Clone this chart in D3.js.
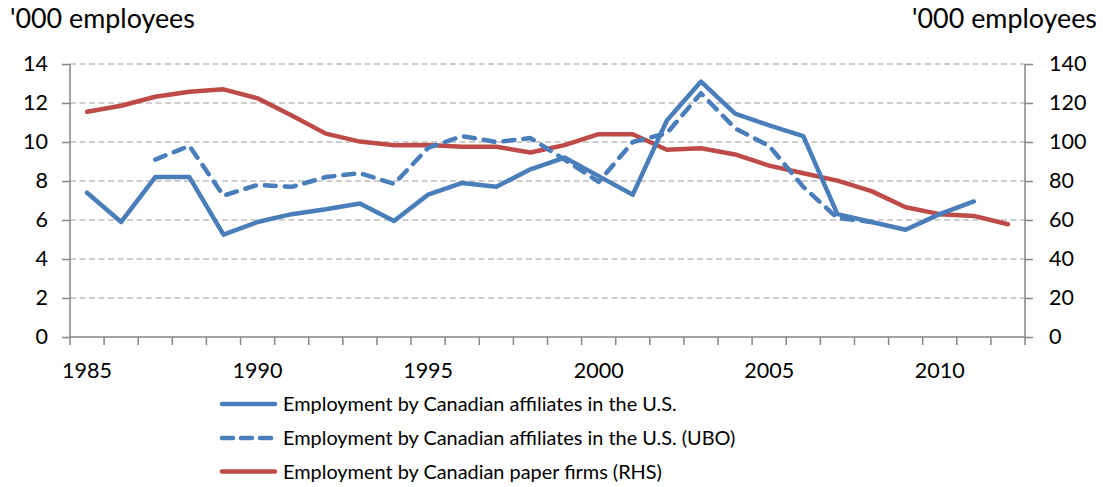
<!DOCTYPE html>
<html>
<head>
<meta charset="utf-8">
<script src="https://cdn.jsdelivr.net/npm/d3@7/dist/d3.min.js"></script>
<style>
  html, body { margin: 0; padding: 0; background: #ffffff; }
  svg { display: block; }
  text { font-family: Lato, "Open Sans", "Liberation Sans", sans-serif; fill: #000; }
</style>
</head>
<body>
<svg id="chart" width="1103" height="487"></svg>
<script>
// ---------- data ----------
const years = d3.range(1985, 2013); // 1985..2012
const xTickLabels = [1985, 1990, 1995, 2000, 2005, 2010];
const leftTicks = [0, 2, 4, 6, 8, 10, 12, 14];
const rightTicks = [0, 20, 40, 60, 80, 100, 120, 140];
const axisTitle = "'000 employees";

const affiliatesYears = d3.range(1985, 2012);
const affiliates = [7.4, 5.9, 8.2, 8.2, 5.25, 5.9, 6.3, 6.55, 6.85, 5.95,
                    7.3, 7.9, 7.7, 8.6, 9.2, 8.25, 7.3, 11.1, 13.1, 11.45,
                    10.85, 10.3, 6.3, 5.9, 5.5, 6.3, 6.95];

const uboYears = d3.range(1987, 2009);
const ubo = [9.1, 9.8, 7.25, 7.8, 7.7, 8.2, 8.4, 7.85,
             9.7, 10.3, 10.0, 10.2, 9.1, 7.95, 10.0, 10.45, 12.5, 10.7,
             9.8, 7.7, 6.1, 5.9];

const paperYears = d3.range(1985, 2013);
const paper = [115.5, 118.6, 123.2, 125.8, 127.0, 122.4, 113.6, 104.3, 100.2, 98.3,
               98.4, 97.6, 97.6, 94.6, 98.4, 104.0, 104.0, 96.0, 96.8, 93.6,
               87.9, 84.0, 80.2, 74.8, 66.5, 63.0, 62.1, 57.8];

const seriesNames = [
  "Employment by Canadian affiliates in the U.S.",
  "Employment by Canadian affiliates in the U.S. (UBO)",
  "Employment by Canadian paper firms (RHS)"
];

// ---------- layout ----------
const svg = d3.select("#chart");
const L = 70, R = 1025, T = 64, B = 337;
const blue = "#4a7ebb", red = "#be4b48", axisCol = "#868686", gridCol = "#bfbfbf";

const x = d3.scaleBand().domain(years).range([L, R]).paddingInner(0).paddingOuter(0);
const xc = d => x(d) + x.bandwidth() / 2;
const yL = d3.scaleLinear().domain([0, 14]).range([B, T]);
const yR = d3.scaleLinear().domain([0, 140]).range([B, T]);

// font fitting helper
function fitSize(str, targetWidth, base) {
  const t = svg.append("text").attr("font-size", base).text(str);
  const w = t.node().getComputedTextLength();
  t.remove();
  return base * targetWidth / w;
}
const tickFS = fitSize("1985", 50, 20);
const titleFS = fitSize(axisTitle, 185, 20);
const legendFS = fitSize(seriesNames[0], 394, 18);

// gridlines
svg.append("g").selectAll("line").data(leftTicks.filter(d => d > 0)).join("line")
  .attr("x1", L).attr("x2", R)
  .attr("y1", d => yL(d)).attr("y2", d => yL(d))
  .attr("stroke", gridCol).attr("stroke-width", 1.3).attr("stroke-dasharray", "6,3.5");

// left axis
const gl = svg.append("g").attr("transform", `translate(${L},0)`)
  .call(d3.axisLeft(yL).tickValues(leftTicks).tickSize(8).tickPadding(14));
gl.select(".domain").attr("stroke", axisCol).attr("stroke-width", 1.5).attr("d", `M0,${T}V${B}`);
gl.selectAll(".tick line").attr("stroke", axisCol).attr("stroke-width", 1.5);
gl.selectAll(".tick text").attr("font-size", tickFS).attr("font-family", "Lato, sans-serif").attr("fill", "#000");

// right axis
const gr = svg.append("g").attr("transform", `translate(${R},0)`)
  .call(d3.axisRight(yR).tickValues(rightTicks).tickSize(8).tickPadding(16));
gr.select(".domain").attr("stroke", axisCol).attr("stroke-width", 1.5).attr("d", `M0,${T}V${B}`);
gr.selectAll(".tick line").attr("stroke", axisCol).attr("stroke-width", 1.5);
gr.selectAll(".tick text").attr("font-size", tickFS).attr("font-family", "Lato, sans-serif").attr("fill", "#000");

// bottom axis: ticks at category boundaries
const boundaries = years.map(d => x(d)).concat([R]);
svg.append("line").attr("x1", L).attr("x2", R).attr("y1", B).attr("y2", B)
  .attr("stroke", axisCol).attr("stroke-width", 1.5);
svg.append("g").selectAll("line").data(boundaries).join("line")
  .attr("x1", d => d).attr("x2", d => d).attr("y1", B).attr("y2", B + 8)
  .attr("stroke", axisCol).attr("stroke-width", 1.5);
svg.append("g").selectAll("text").data(xTickLabels).join("text")
  .attr("x", d => xc(d)).attr("y", 378)
  .attr("text-anchor", "middle").attr("font-size", tickFS).text(d => d);

// axis titles
svg.append("text").attr("x", 10).attr("y", 28).attr("font-size", titleFS).text(axisTitle);
svg.append("text").attr("x", 1097).attr("y", 28).attr("text-anchor", "end").attr("font-size", titleFS).text(axisTitle);

// lines
const lineL = d3.line().x(d => xc(d[0])).y(d => yL(d[1]));
const lineR = d3.line().x(d => xc(d[0])).y(d => yR(d[1]));

svg.append("path").datum(paperYears.map((yr, i) => [yr, paper[i]]))
  .attr("d", lineR).attr("fill", "none").attr("stroke", red).attr("stroke-width", 4.5)
  .attr("stroke-linejoin", "round").attr("stroke-linecap", "round");

svg.append("path").datum(uboYears.map((yr, i) => [yr, ubo[i]]))
  .attr("d", lineL).attr("fill", "none").attr("stroke", blue).attr("stroke-width", 4.5)
  .attr("stroke-linejoin", "round").attr("stroke-linecap", "round")
  .attr("stroke-dasharray", "11,9");

svg.append("path").datum(affiliatesYears.map((yr, i) => [yr, affiliates[i]]))
  .attr("d", lineL).attr("fill", "none").attr("stroke", blue).attr("stroke-width", 4.5)
  .attr("stroke-linejoin", "round").attr("stroke-linecap", "round");

// legend
const legendRows = [
  { name: seriesNames[0], color: blue, dash: null, y: 404 },
  { name: seriesNames[1], color: blue, dash: "11,8", y: 438 },
  { name: seriesNames[2], color: red, dash: null, y: 471.5 }
];
const lg = svg.append("g");
legendRows.forEach(r => {
  lg.append("line").attr("x1", 222).attr("x2", r.dash ? 272 : 275)
    .attr("y1", r.y).attr("y2", r.y)
    .attr("stroke", r.color).attr("stroke-width", 4.5).attr("stroke-linecap", "round")
    .attr("stroke-dasharray", r.dash);
  lg.append("text").attr("x", 283).attr("y", r.y + 7).attr("font-size", legendFS).text(r.name);
});
</script>
</body>
</html>
